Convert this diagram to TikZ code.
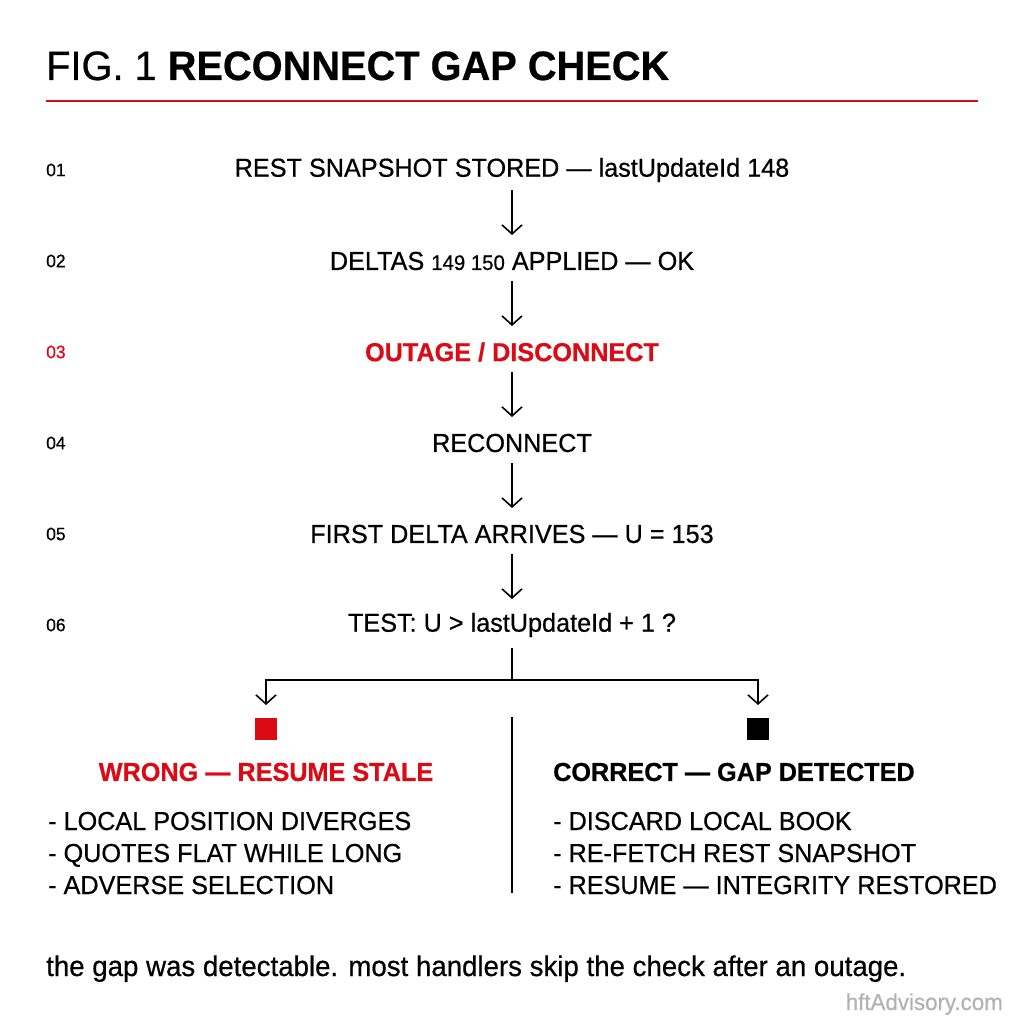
\documentclass[tikz,border=0pt]{standalone}
\usepackage{fontspec}
\setmainfont{Liberation Sans}[FakeStretch=0.97,FakeBold=0.6]
\usetikzlibrary{arrows.meta}
\definecolor{fred}{HTML}{DC0A14}
\begin{document}
\begin{tikzpicture}[x=1pt,y=-1pt,
  stepbox/.style={font=\fontsize{26}{28}\selectfont,anchor=center,inner sep=0},
  numlab/.style={font=\fontsize{18}{20}\selectfont,anchor=west,inner sep=0},
  bul/.style={font=\fontsize{26}{28}\selectfont,anchor=base west,inner sep=0},
  arr/.style={line width=1.6pt,-{Straight Barb[length=9pt,width=20pt,line width=1.6pt]}},
  ln/.style={line width=1.6pt}]
\useasboundingbox (0,0) rectangle (1024,1024);
\node[anchor=base west,inner sep=0,font=\fontsize{41}{44}\selectfont] (title) at (46,80) {FIG. 1 \textbf{RECONNECT GAP CHECK}};
\draw[fred,line width=1.5pt] (46,101) -- (978,101);
\node[numlab] (n1) at (46,170) {01};
\node[numlab] (n2) at (46,261) {02};
\node[numlab,text=fred] (n3) at (46,352) {03};
\node[numlab] (n4) at (46,443) {04};
\node[numlab] (n5) at (46,534) {05};
\node[numlab] (n6) at (46,625) {06};
\node[stepbox] (s1) at (512,170) {REST SNAPSHOT STORED — lastUpdateId 148};
\node[stepbox] (s2) at (512,261) {DELTAS {\fontsize{21}{22}\selectfont 149 150} APPLIED — OK};
\node[stepbox,text=fred,font=\fontsize{26}{28}\selectfont\bfseries] (s3) at (512,352) {OUTAGE / DISCONNECT};
\node[stepbox] (s4) at (512,443) {RECONNECT};
\node[stepbox] (s5) at (512,534) {FIRST DELTA ARRIVES — U = 153};
\node[stepbox] (s6) at (512,625) {TEST: U > lastUpdateId + 1 ?};
\foreach \a/\b in {s1/s2,s2/s3,s3/s4,s4/s5,s5/s6}
  \draw[arr] ([yshift=-20pt]\a.center) -- ([yshift=26pt]\b.center);
\coordinate (j) at (512,680);
\node[fill=fred,minimum size=22pt,inner sep=0] (rq) at (266,729) {};
\node[fill=black,minimum size=22pt,inner sep=0] (bq) at (758,729) {};
\draw[ln] ([yshift=-23pt]s6.center) -- (j);
\draw[arr] (j) -| ([yshift=24pt]rq.center);
\draw[arr] (j) -| ([yshift=24pt]bq.center);
\coordinate (d1) at (512,717); \coordinate (d2) at (512,893);
\draw[ln] (d1) -- (d2);
\node[font=\fontsize{26}{28}\selectfont\bfseries,text=fred,inner sep=0] (wh) at (266,772) {WRONG — RESUME STALE};
\node[font=\fontsize{26}{28}\selectfont\bfseries,anchor=west,inner sep=0] (ch) at (553,772) {CORRECT — GAP DETECTED};
\node[bul] (l1) at (48,830) {- LOCAL POSITION DIVERGES};
\node[bul] (l2) at (48,862) {- QUOTES FLAT WHILE LONG};
\node[bul] (l3) at (48,894) {- ADVERSE SELECTION};
\node[bul] (r1) at (553,830) {- DISCARD LOCAL BOOK};
\node[bul] (r2) at (553,862) {- RE-FETCH REST SNAPSHOT};
\node[bul] (r3) at (553,894) {- RESUME — INTEGRITY RESTORED};
\node[anchor=base west,inner sep=0,font=\fontsize{28.5}{30}\selectfont] (foot) at (46,976) {the gap was detectable. most handlers skip the check after an outage.};
\node[anchor=base east,inner sep=0,font=\fontsize{23}{25}\selectfont,text=black!30] (wm) at (1003,1010) {hftAdvisory.com};
\end{tikzpicture}
\end{document}
